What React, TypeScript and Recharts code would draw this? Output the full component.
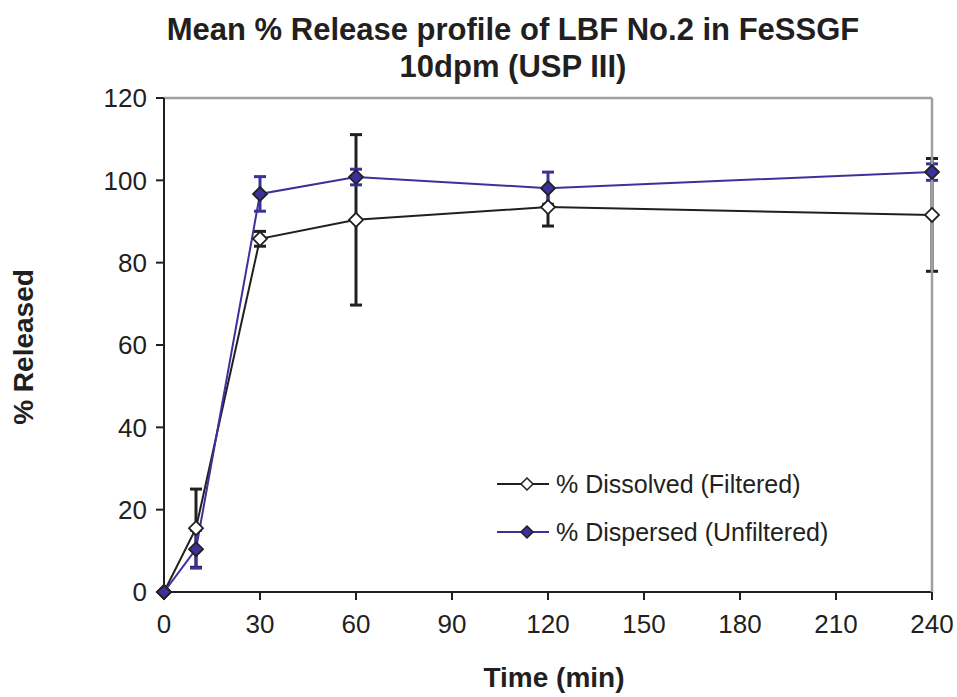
import React from 'react';
import { LineChart, Line, XAxis, YAxis, ErrorBar } from 'recharts';

const times = [0, 10, 30, 60, 120, 240];
const dissolved = [0, 15.5, 85.8, 90.4, 93.5, 91.6];
const dissolvedErr = [0, 9.5, 1.8, 20.7, 4.6, 13.7];
const dispersed = [0, 10.4, 96.7, 100.8, 98.1, 102];
const dispersedErr = [0, 4.6, 4.2, 1.9, 3.9, 2];
const xTicks = [0, 30, 60, 90, 120, 150, 180, 210, 240];
const yTicks = [0, 20, 40, 60, 80, 100, 120];
const seriesNames = ['% Dissolved (Filtered)', '% Dispersed (Unfiltered)'];

const data = times.map((t, i) => ({
  t,
  dissolved: dissolved[i],
  dissolvedErr: dissolvedErr[i],
  dispersed: dispersed[i],
  dispersedErr: dispersedErr[i],
}));

const BLUE = '#3a3298';
const BLACK = '#231f20';
const FONT = '"Liberation Sans", Arial, sans-serif';

const Diamond = (fill: string, stroke: string) => (props: any) => {
  const { cx, cy, index } = props;
  if (cx == null || cy == null) return <g key={index} />;
  const r = 7;
  return (
    <polygon
      key={index}
      points={`${cx},${cy - r} ${cx + r},${cy} ${cx},${cy + r} ${cx - r},${cy}`}
      fill={fill}
      stroke={stroke}
      strokeWidth={1.8}
    />
  );
};

const legendItems = [
  { label: seriesNames[0], color: BLACK, fill: '#ffffff' },
  { label: seriesNames[1], color: BLUE, fill: BLUE },
];

export default function App() {
  return (
    <div style={{ position: 'absolute', left: 0, top: 0, width: 957, height: 697, background: '#fff' }}>
      <LineChart
        width={957}
        height={697}
        data={data}
        margin={{ top: 97, right: 24, bottom: 75, left: 104 }}
      >
        <XAxis
          dataKey="t"
          type="number"
          domain={[0, 240]}
          ticks={xTicks}
          interval={0}
          height={30}
          stroke={BLACK}
          strokeWidth={2}
          tickSize={8}
          tick={{ fontFamily: FONT, fontSize: 26, fill: '#231f20', dy: 13 }}
        />
        <XAxis
          xAxisId="top"
          dataKey="t"
          type="number"
          orientation="top"
          domain={[0, 240]}
          height={1}
          stroke="#a0a0a0"
          strokeWidth={2.5}
          tick={false}
          tickLine={false}
        />
        <YAxis
          type="number"
          domain={[0, 120]}
          ticks={yTicks}
          interval={0}
          width={60}
          stroke={BLACK}
          strokeWidth={2}
          tickSize={8}
          tick={{ fontFamily: FONT, fontSize: 26, fill: '#231f20', dx: -7 }}
        />
        <YAxis
          yAxisId="right"
          orientation="right"
          domain={[0, 120]}
          width={1}
          stroke="#a0a0a0"
          strokeWidth={2.5}
          tick={false}
          tickLine={false}
        />
        <Line
          dataKey="dissolved"
          stroke={BLACK}
          strokeWidth={2}
          isAnimationActive={false}
          dot={Diamond('#ffffff', BLACK)}
          activeDot={false}
        >
          <ErrorBar dataKey="dissolvedErr" direction="y" width={6} stroke={BLACK} strokeWidth={3} />
        </Line>
        <Line
          dataKey="dispersed"
          stroke={BLUE}
          strokeWidth={2}
          isAnimationActive={false}
          dot={Diamond(BLUE, '#231f20')}
          activeDot={false}
        >
          <ErrorBar dataKey="dispersedErr" direction="y" width={6} stroke={BLUE} strokeWidth={3} />
        </Line>
      </LineChart>
      <div
        style={{
          position: 'absolute',
          left: 0,
          width: 1026,
          top: 11,
          textAlign: 'center',
          fontFamily: FONT,
          fontWeight: 'bold',
          fontSize: 31,
          lineHeight: '37px',
          color: '#231f20',
        }}
      >
        Mean % Release profile of LBF No.2 in FeSSGF
        <br />
        10dpm (USP III)
      </div>
      <div
        style={{
          position: 'absolute',
          left: 554 - 150,
          width: 300,
          top: 660,
          textAlign: 'center',
          fontFamily: FONT,
          fontWeight: 'bold',
          fontSize: 28,
          lineHeight: '36px',
          color: '#231f20',
        }}
      >
        Time (min)
      </div>
      <div
        style={{
          position: 'absolute',
          left: 24 - 150,
          top: 347 - 18,
          width: 300,
          lineHeight: '36px',
          textAlign: 'center',
          transform: 'rotate(-90deg)',
          fontFamily: FONT,
          fontWeight: 'bold',
          fontSize: 28,
          color: '#231f20',
        }}
      >
        % Released
      </div>
      <div style={{ position: 'absolute', left: 496, top: 460, fontFamily: FONT, fontSize: 25, color: '#231f20' }}>
        {legendItems.map((it, i) => (
          <div key={i} style={{ display: 'flex', alignItems: 'center', height: 48, whiteSpace: 'nowrap' }}>
            <svg width={54} height={20} style={{ flexShrink: 0, marginRight: 6 }}>
              <line x1={1} y1={10} x2={53} y2={10} stroke={it.color} strokeWidth={2} />
              <polygon points="31,4 37,10 31,16 25,10" fill={it.fill} stroke={BLACK} strokeWidth={1.5} />
            </svg>
            <span>{it.label}</span>
          </div>
        ))}
      </div>
    </div>
  );
}
